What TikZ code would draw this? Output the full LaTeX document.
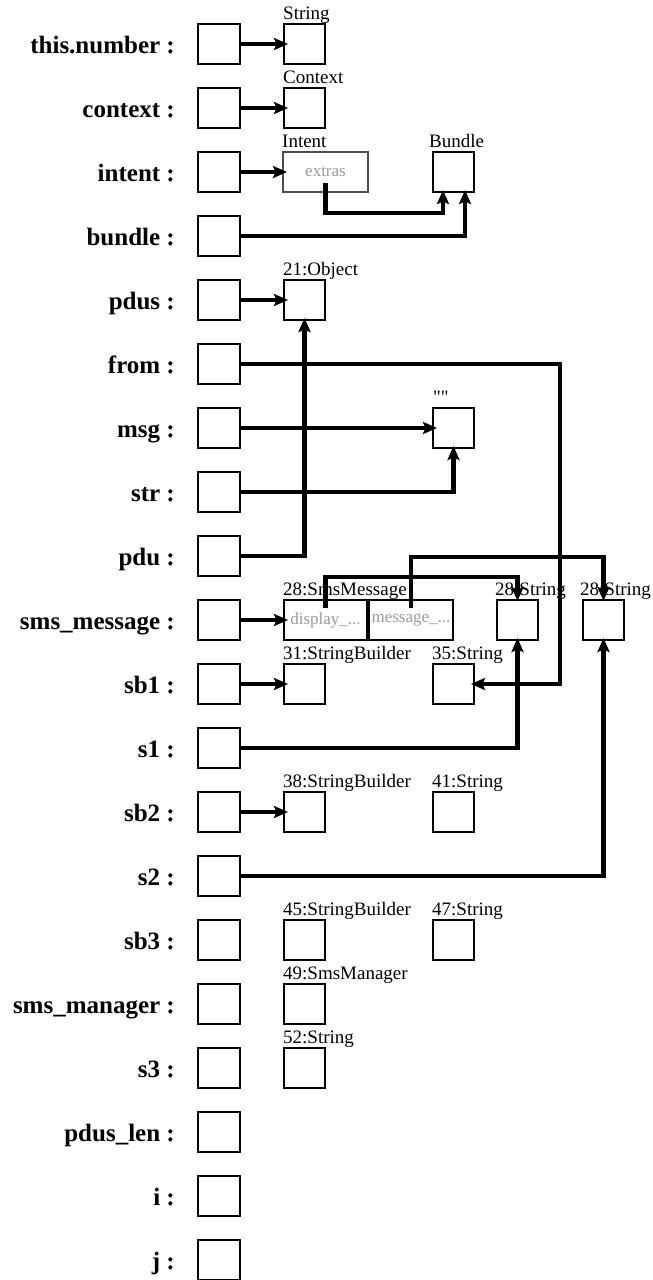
\documentclass[tikz,border=0pt]{standalone}
\usepackage{fontspec}
\setmainfont{Liberation Serif}
\newfontfamily\rawserif{Liberation Serif}
\usetikzlibrary{arrows.meta,calc}
\begin{document}
\begin{tikzpicture}[x=1pt,y=-1pt,
 lbox/.style={draw, line width=2pt, minimum width=42pt, minimum height=40pt, inner sep=0pt},
 obj/.style={draw, line width=2pt, minimum width=41pt, minimum height=40pt, inner sep=0pt},
 vlab/.style={font=\fontsize{25}{25}\selectfont\bfseries, inner sep=0pt, anchor=base east},
 olab/.style={font=\fontsize{19}{19}\selectfont, inner sep=0pt, anchor=base west},
 fld/.style={font=\fontsize{17}{17}\selectfont, text=black!40},
 ptr/.style={line width=4.5pt, -{Stealth[length=14pt,width=12pt,inset=2.5pt]}}]
\useasboundingbox (0,0) rectangle (653,1280);

% variable slots and their labels
\foreach \lab [count=\k from 0] in {this.number, context, intent, bundle, pdus, from, msg, str, pdu, sms\_message, sb1, s1, sb2, s2, sb3, sms\_manager, s3, pdus\_len, i, j}{
  \node[lbox] (lb\k) at (219,{44+64*\k}) {};
  \node[vlab] (vl\k) at ($(lb\k.west)+(-22,9)$) {\lab\ :};
}

% objects
\node[obj] (ostr) at (304.5,44) {};
\node[obj] (octx) at (304.5,108) {};
\node[obj, draw=black!70, minimum width=85pt, fld] (ointent) at (325.5,172) {extras};
\node[obj] (obundle) at (453.5,172) {};
\node[obj] (oobj) at (304.5,300) {};
\node[obj] (oempty) at (453.5,428) {};
\node[obj, minimum width=83pt, fld] (odisp) at (325.5,620) {display\_...};
\node[obj, minimum width=84pt, fld] (omesg) at (411,620) {message\_...};
\node[obj] (os28a) at (517.5,620) {};
\node[obj] (os28b) at (603.5,620) {};
\node[obj] (osb31) at (304.5,684) {};
\node[obj] (os35) at (453.5,684) {};
\node[obj] (osb38) at (304.5,812) {};
\node[obj] (os41) at (453.5,812) {};
\node[obj] (osb45) at (304.5,940) {};
\node[obj] (os47) at (453.5,940) {};
\node[obj] (osm49) at (304.5,1004) {};
\node[obj] (os52) at (304.5,1068) {};

% object labels
\node[olab] (l1) at ($(ostr.north west)+(0,-4)$) {String};
\node[olab] (l2) at ($(octx.north west)+(0,-4)$) {Context};
\node[olab] (l3) at ($(ointent.north west)+(0,-4)$) {Intent};
\node[olab] (l4) at ($(obundle.north west)+(-3,-4)$) {Bundle};
\node[olab] (l5) at ($(oobj.north west)+(0,-4)$) {21:Object};
\node[olab] (l6) at ($(oempty.north west)+(1,-4)$) {\rawserif ""};
\node[olab] (l7) at ($(odisp.north west)+(0,-4)$) {28:SmsMessage};
\node[olab] (l8) at ($(os28a.north west)+(-1,-4)$) {28:String};
\node[olab] (l9) at ($(os28b.north west)+(-2,-4)$) {28:String};
\node[olab] (l10) at ($(osb31.north west)+(0,-4)$) {31:StringBuilder};
\node[olab] (l11) at ($(os35.north west)+(0,-4)$) {35:String};
\node[olab] (l12) at ($(osb38.north west)+(0,-4)$) {38:StringBuilder};
\node[olab] (l13) at ($(os41.north west)+(0,-4)$) {41:String};
\node[olab] (l14) at ($(osb45.north west)+(0,-4)$) {45:StringBuilder};
\node[olab] (l15) at ($(os47.north west)+(0,-4)$) {47:String};
\node[olab] (l16) at ($(osm49.north west)+(0,-4)$) {49:SmsManager};
\node[olab] (l17) at ($(os52.north west)+(0,-4)$) {52:String};

% pointers
\draw[ptr] (lb0.east) -- ($(ostr.west)+(5,0)$);
\draw[ptr] (lb1.east) -- ($(octx.west)+(5,0)$);
\draw[ptr] (lb2.east) -- ($(ointent.west)+(5,0)$);
\draw[ptr] ($(ointent.center)+(0,11)$) |- ($(obundle.south)+(-10.5,20)$) -- ($(obundle.south)+(-10.5,-3)$);
\draw[ptr] (lb3.east) -| ($(obundle.south)+(11.5,-3)$);
\draw[ptr] (lb4.east) -- ($(oobj.west)+(5,0)$);
\draw[ptr] (lb8.east) -| ($(oobj.south)+(0,-3)$);
\draw[ptr] (lb5.east) -| ($(os35.east)+(85,0)$) -- ($(os35.east)+(-4,0)$);
\draw[ptr] (lb6.east) -- ($(oempty.west)+(5,0)$);
\draw[ptr] (lb7.east) -| ($(oempty.south)+(0,-3)$);
\draw[ptr] (lb9.east) -- ($(odisp.west)+(5,0)$);
\draw[ptr] ($(odisp.center)+(0,-12)$) |- ($(os28a.north)+(0,-22)$) -- ($(os28a.north)+(0,2)$);
\draw[ptr] ($(omesg.center)+(0,-12)$) |- ($(os28b.north)+(0,-42)$) -- ($(os28b.north)+(0,2)$);
\draw[ptr] (lb11.east) -| ($(os28a.south)+(0,-3)$);
\draw[ptr] (lb13.east) -| ($(os28b.south)+(0,-3)$);
\draw[ptr] (lb10.east) -- ($(osb31.west)+(5,0)$);
\draw[ptr] (lb12.east) -- ($(osb38.west)+(5,0)$);
\end{tikzpicture}
\end{document}
